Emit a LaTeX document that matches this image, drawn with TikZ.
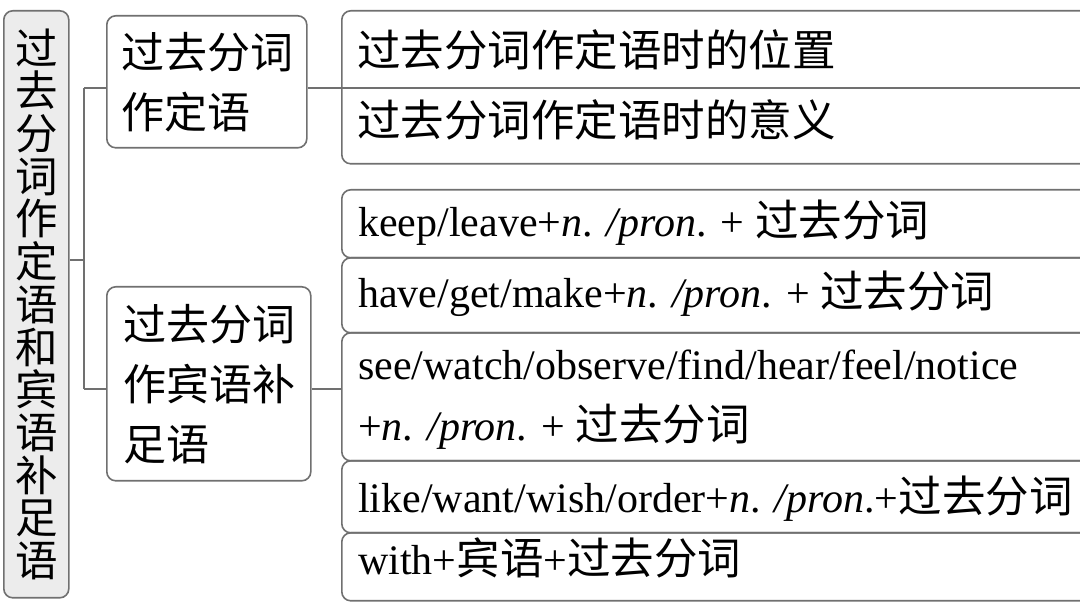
\documentclass[tikz,border=0pt]{standalone}
\usepackage{fontspec}
\setmainfont{Liberation Serif}
\newfontfamily\cjk{Noto Sans CJK SC}
\newcommand{\zh}[1]{{\cjk\fontsize{43.5}{50}\selectfont #1}}
\definecolor{linegray}{HTML}{707070}
\definecolor{rootfill}{HTML}{ECECEC}
\begin{document}
\begin{tikzpicture}[x=1pt,y=-1pt,
  frame/.style={draw=linegray, line width=1.6pt, rounded corners=9pt, inner sep=0pt},
  conn/.style={draw=linegray, line width=1.6pt},
  lbl/.style={anchor=base west, inner sep=0pt, font=\fontsize{42}{50}\selectfont}
]
\useasboundingbox (0,0) rectangle (1080,609);
\clip (0,0) rectangle (1080,609);

% root
\node[frame, fill=rootfill, minimum width=65pt, minimum height=587pt, anchor=north west,
      align=center, font=\cjk\fontsize{42.5}{42.7}\selectfont] (root) at (3,10)
  {过\\去\\分\\词\\作\\定\\语\\和\\宾\\语\\补\\足\\语};

% second level
\node[frame, fill=white, minimum width=200pt, minimum height=132pt, anchor=north west,
      align=left, text width=170pt, inner xsep=15pt, font=\cjk\fontsize{43}{60}\selectfont] (b1) at (106,15)
  {过去分词\\作定语};
\node[frame, fill=white, minimum width=200pt, minimum height=194pt, anchor=north west,
      align=left, text width=170pt, inner xsep=17pt, font=\cjk\fontsize{43}{60}\selectfont] (b2) at (106,286)
  {过去分词\\作宾语补\\足语};

% right group 1
\node[frame, minimum width=760pt, minimum height=153pt, anchor=north west] (g1) at (341,10) {};
% right group 2
\node[frame, minimum width=760pt, minimum height=68pt, anchor=north west] (r1) at (341,189) {};
\node[frame, minimum width=760pt, minimum height=75pt, anchor=north west] (r2) at (341,257) {};
\node[frame, minimum width=760pt, minimum height=128pt, anchor=north west] (r3) at (341,332) {};
\node[frame, minimum width=760pt, minimum height=72pt, anchor=north west] (r4) at (341,460) {};
\node[frame, minimum width=760pt, minimum height=68pt, anchor=north west] (r5) at (341,532) {};

% connectors
\coordinate (jr) at (84,260);
\coordinate (j1) at (84,88);
\coordinate (j2) at (84,389);
\coordinate (d1) at (1090,88);
\draw[conn] (root.east |- jr) -- (jr);
\draw[conn] (j1) -- (j2);
\draw[conn] (j1) -- (b1.west |- j1);
\draw[conn] (j2) -- (b2.west |- j2);
\draw[conn] (b1.east |- j1) -- (d1);
\draw[conn] (b2.east |- j2) -- (r3.west |- j2);

% texts
\node[lbl] (t1) at (357,67) {\zh{过去分词作定语时的位置}};
\node[lbl] (t2) at (357,137) {\zh{过去分词作定语时的意义}};
\node[lbl] (t3) at (358,237) {keep/leave+\textit{n}. \textit{/pron}. + \zh{过去分词}};
\node[lbl] (t4) at (358,308) {have/get/make+\textit{n}. \textit{/pron}. + \zh{过去分词}};
\node[lbl] (t5) at (358,380) {see/watch/observe/find/hear/feel/notice};
\node[lbl] (t6) at (358,441) {+\textit{n}. \textit{/pron}. + \zh{过去分词}};
\node[lbl] (t7) at (358,513) {like/want/wish/order+\textit{n}. \textit{/pron}.+\zh{过去分词}};
\node[lbl] (t8) at (358,575) {with+\zh{宾语}+\zh{过去分词}};
\end{tikzpicture}
\end{document}
